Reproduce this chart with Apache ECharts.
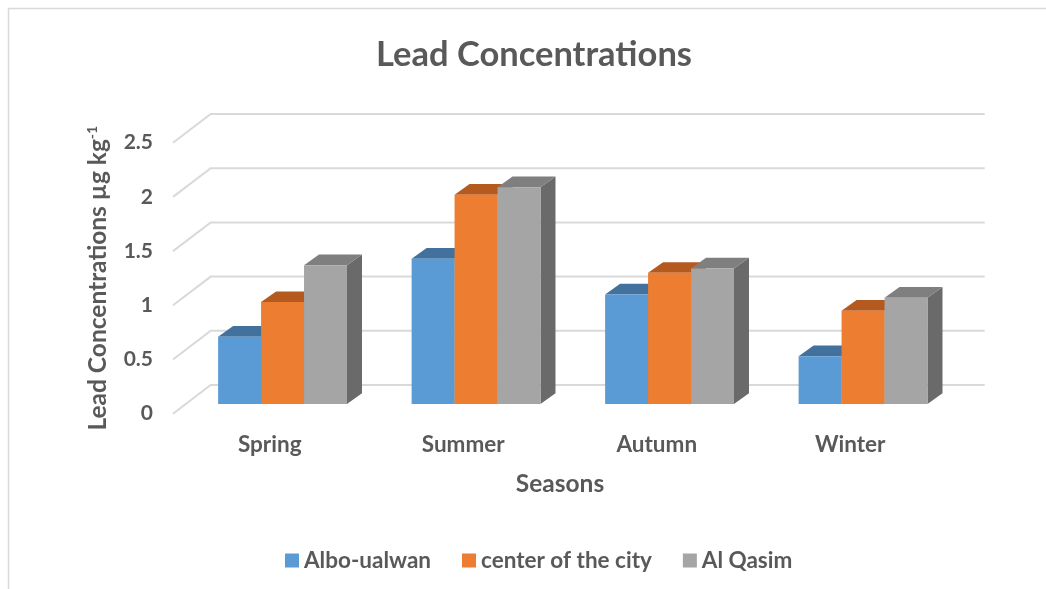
<!DOCTYPE html>
<html>
<head>
<meta charset="utf-8">
<script src="https://cdn.jsdelivr.net/npm/echarts@6/dist/echarts.min.js"></script>
<style>
html,body{margin:0;padding:0;background:#fff;}
#chart{width:1046px;height:589px;}
</style>
</head>
<body>
<div id="chart"></div>
<script>
var categories = ['Spring', 'Summer', 'Autumn', 'Winter'];
var seriesNames = ['Albo-ualwan', 'center of the city', 'Al Qasim'];
var alboUalwan = [0.62, 1.34, 1.01, 0.44];
var centerOfCity = [0.94, 1.93, 1.21, 0.86];
var alQasim = [1.28, 2.00, 1.25, 0.98];
var yTicks = [0, 0.5, 1, 1.5, 2, 2.5];

var FONT = 'Lato, "Open Sans", sans-serif';
var TXT = '#595959';
var frontColors = ['#5B9BD5', '#ED7D31', '#A5A5A5'];
var topColors = ['#41719C', '#B45A1F', '#7F7F7F'];
var sideColors = ['#3E6C96', '#AD561C', '#6A6A6A'];

// 3D geometry (pixels)
var WALL_DX = 37.7, WALL_DY = 28.7;   // floor depth (front edge -> back wall)
var PLANE_DX = 12.8, PLANE_DY = 9.7;  // front edge -> bars' front plane
var BAR_DX = 15, BAR_DY = 10.7;       // bar depth
var BAR_FRAC = 0.222;                 // bar width as fraction of band

var chart = echarts.init(document.getElementById('chart'));

function barSeries(idx, values) {
  return {
    type: 'custom',
    name: seriesNames[idx],
    itemStyle: { color: frontColors[idx] },
    data: values.map(function (v, j) { return [j, v]; }),
    renderItem: function (params, api) {
      var j = api.value(0), v = api.value(1);
      var base = api.coord([j, 0]);
      var topP = api.coord([j, v]);
      var band = api.size([1, 0])[0];
      var bw = band * BAR_FRAC;
      var cx = base[0] + PLANE_DX;
      var xl = cx - 1.5 * bw + idx * bw;
      var xr = xl + bw;
      var yb = base[1] - PLANE_DY;
      var yt = topP[1] - PLANE_DY;
      return {
        type: 'group',
        children: [
          { type: 'polygon', shape: { points: [[xr, yt], [xr + BAR_DX, yt - BAR_DY], [xr + BAR_DX, yb - BAR_DY], [xr, yb]] },
            style: { fill: sideColors[idx] } },
          { type: 'polygon', shape: { points: [[xl, yt], [xl + BAR_DX, yt - BAR_DY], [xr + BAR_DX, yt - BAR_DY], [xr, yt]] },
            style: { fill: topColors[idx] } },
          { type: 'rect', shape: { x: xl, y: yt, width: bw, height: yb - yt },
            style: { fill: frontColors[idx] } }
        ]
      };
    }
  };
}

var option = {
  backgroundColor: '#fff',
  animation: false,
  title: {
    text: 'Lead Concentrations',
    left: 371,
    top: 32,
    textStyle: { fontFamily: FONT, fontWeight: 'bold', fontSize: 34.5, color: TXT }
  },
  legend: {
    top: 544,
    left: 280,
    icon: 'rect',
    itemWidth: 14,
    itemHeight: 14,
    itemGap: 31,
    data: seriesNames,
    textStyle: { fontFamily: FONT, fontWeight: 'bold', fontSize: 22.5, color: TXT }
  },
  grid: { left: 173, right: 99, top: 142.7, bottom: 175.3, containLabel: false },
  xAxis: {
    type: 'category',
    data: categories,
    name: 'Seasons',
    nameLocation: 'middle',
    nameGap: 58,
    nameTextStyle: { fontFamily: FONT, fontWeight: 'bold', fontSize: 24.5, color: TXT },
    axisLine: { show: false },
    axisTick: { show: false },
    axisLabel: { margin: 20, fontFamily: FONT, fontWeight: 'bold', fontSize: 22.5, color: TXT },
    splitLine: { show: false }
  },
  yAxis: {
    type: 'value',
    min: 0, max: 2.5, interval: 0.5,
    name: '{a|Lead Concentrations µg kg}{b|-1}',
    nameLocation: 'middle',
    nameGap: 60,
    nameTextStyle: {
      rich: {
        a: { fontFamily: FONT, fontWeight: 'bold', fontSize: 24.5, color: TXT, lineHeight: 30 },
        b: { fontFamily: FONT, fontWeight: 'bold', fontSize: 14, color: TXT, lineHeight: 30, verticalAlign: 'top', padding: [2, 0, 0, 0] }
      }
    },
    axisLine: { show: false },
    axisTick: { show: false },
    splitLine: { show: false },
    axisLabel: {
      margin: 20,
      fontFamily: FONT, fontWeight: 'bold', fontSize: 21, color: TXT,
      formatter: function (v) { return String(v); }
    }
  },
  graphic: [
    { type: 'polyline', shape: { points: [[8.5, 600], [8.5, 8.5], [1050, 8.5]] },
      style: { stroke: '#D9D9D9', lineWidth: 1.5, fill: null }, z: 0 }
  ],
  series: [
    {
      type: 'custom',
      name: 'grid3d',
      silent: true,
      data: yTicks.map(function (t) { return [0, t]; }),
      renderItem: function (params, api) {
        var cs = params.coordSys;
        var y = api.coord([0, api.value(1)])[1];
        var x0 = cs.x, x1 = cs.x + cs.width;
        return {
          type: 'polyline',
          shape: { points: [[x0, y], [x0 + WALL_DX, y - WALL_DY], [x1 + WALL_DX, y - WALL_DY]] },
          style: { stroke: '#D9D9D9', lineWidth: 2, fill: null }
        };
      }
    },
    barSeries(0, alboUalwan),
    barSeries(1, centerOfCity),
    barSeries(2, alQasim)
  ]
};
chart.setOption(option);
</script>
</body>
</html>
